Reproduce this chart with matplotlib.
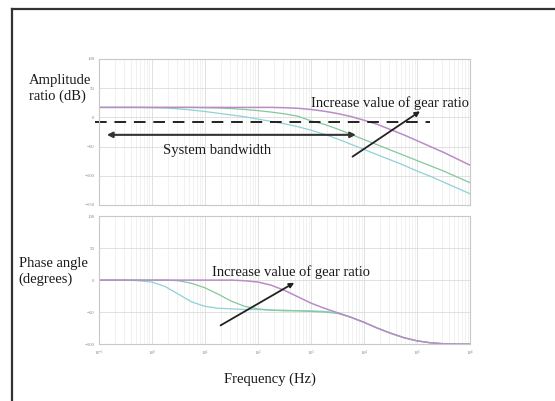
import matplotlib
matplotlib.use('Agg')
import matplotlib.pyplot as plt
from matplotlib.lines import Line2D
import numpy as np

# frequency grid (log10 Hz), quarter decades
log_f = [-1, -0.75, -0.5, -0.25, 0, 0.25, 0.5, 0.75, 1, 1.25, 1.5, 1.75, 2, 2.25, 2.5,
         2.75, 3, 3.25, 3.5, 3.75, 4, 4.25, 4.5, 4.75, 5, 5.25, 5.5, 5.75, 6]

# amplitude ratio (dB)
mag_cyan = [17, 17, 17, 17, 16.5, 16, 14.5, 12.5, 10, 7, 4, 1, -3, -7, -11,
            -16, -22, -29, -37, -46, -55, -64, -73, -82, -92, -101, -111, -121, -131]
mag_green = [17, 17, 17, 17, 17, 17, 17, 17, 16.5, 16, 15, 13.5, 11.5, 9, 6,
             2, -6, -12, -20, -29, -38, -47, -56, -65, -74, -83, -92, -102, -112]
mag_purple = [17, 17, 17, 17, 17, 17, 17, 17, 17, 17, 17, 17, 17, 17, 16.5,
              15.5, 13.5, 10.5, 6.5, 1.5, -5, -12, -21, -30, -40, -50, -60, -71, -82]

# phase angle (degrees)
ph_cyan = [0, 0, 0, -1, -3, -10, -22, -34, -41, -44, -45, -46, -46, -47, -47,
           -48, -48, -49, -51, -58, -66, -75, -83, -90, -95, -98, -99.5, -100, -100]
ph_green = [0, 0, 0, 0, 0, 0, -1, -5, -12, -22, -33, -41, -45, -47, -48,
            -48, -49, -50, -52, -58, -66, -75, -83, -90, -95, -98, -99.5, -100, -100]
ph_purple = [0, 0, 0, 0, 0, 0, 0, 0, 0, 0, 0, -1, -3, -8, -16,
             -26, -36, -44, -51, -58, -66, -75, -83, -90, -95, -98, -99.5, -100, -100]

freq = 10.0 ** np.array(log_f)
c_cyan, c_green, c_purple = '#8ed2d6', '#86c79c', '#b98cc6'
txt = '#1a1a1a'
fs = 10.5

plt.rcParams['font.family'] = ['Liberation Serif', 'DejaVu Serif']

fig = plt.figure(figsize=(5.55, 4.01), dpi=100)
ax1 = fig.add_axes([0.178, 0.489, 0.669, 0.364])
ax2 = fig.add_axes([0.178, 0.142, 0.669, 0.319])

for ax in (ax1, ax2):
    ax.set_xscale('log')
    ax.set_xlim(1e-1, 1e6)
    ax.set_xticks(10.0 ** np.arange(-1, 7))
    ax.grid(True, which='major', color='#dcdcdc', lw=0.6)
    ax.grid(True, which='minor', color='#ececec', lw=0.5)
    ax.tick_params(which='both', length=0, labelsize=3.5, labelcolor='#888888', pad=3)
    for s in ax.spines.values():
        s.set_color('#c8c8c8')
        s.set_linewidth(0.8)

ax1.set_xticklabels([])
ax1.set_ylim(-150, 100)
ax1.set_yticks([100, 50, 0, -50, -100, -150])
ax2.set_ylim(-100, 100)
ax2.set_yticks([100, 50, 0, -50, -100])

ax1.plot(freq, mag_cyan, color=c_cyan, lw=0.9)
ax1.plot(freq, mag_green, color=c_green, lw=0.9)
ax1.plot(freq, mag_purple, color=c_purple, lw=1.1)
ax2.plot(freq, ph_cyan, color=c_cyan, lw=0.9)
ax2.plot(freq, ph_green, color=c_green, lw=0.9)
ax2.plot(freq, ph_purple, color=c_purple, lw=1.1)

# annotations, top panel
ax1.plot([10 ** -1.07, 10 ** 5.25], [-8, -8], color='#222222', lw=1.4,
         dashes=(6, 4), clip_on=False)
ax1.annotate('', xy=(10 ** -0.9, -30), xytext=(10 ** 3.9, -30),
             arrowprops=dict(arrowstyle='<|-|>', color='#333333', lw=1.5,
                             mutation_scale=8))
ax1.text(10 ** 1.23, -56, 'System bandwidth', fontsize=fs, color=txt,
         ha='center', va='center')
ax1.annotate('', xy=(10 ** 5.1, 13), xytext=(10 ** 3.74, -70),
             arrowprops=dict(arrowstyle='-|>', color='#222222', lw=1.3,
                             mutation_scale=7))
ax1.text(10 ** 4.49, 25, 'Increase value of gear ratio', fontsize=fs, color=txt,
         ha='center', va='center')

# annotations, bottom panel
ax2.annotate('', xy=(10 ** 2.73, -2), xytext=(10 ** 1.25, -73),
             arrowprops=dict(arrowstyle='-|>', color='#222222', lw=1.3,
                             mutation_scale=7))
ax2.text(10 ** 2.63, 12.5, 'Increase value of gear ratio', fontsize=fs, color=txt,
         ha='center', va='center')

fig.text(0.052, 0.78, 'Amplitude\nratio (dB)', fontsize=fs, color=txt,
         ha='left', va='center', linespacing=1.25)
fig.text(0.034, 0.323, 'Phase angle\n(degrees)', fontsize=fs, color=txt,
         ha='left', va='center', linespacing=1.25)
fig.text(0.487, 0.055, 'Frequency (Hz)', fontsize=fs, color=txt,
         ha='center', va='center')

# outer frame of the document box
fig.add_artist(Line2D([0.0216, 0.0216], [0.978, 0.0], color='#333333', lw=1.6))
fig.add_artist(Line2D([0.0216, 1.0], [0.978, 0.978], color='#333333', lw=1.6))

fig.savefig('out.png', dpi=100)
